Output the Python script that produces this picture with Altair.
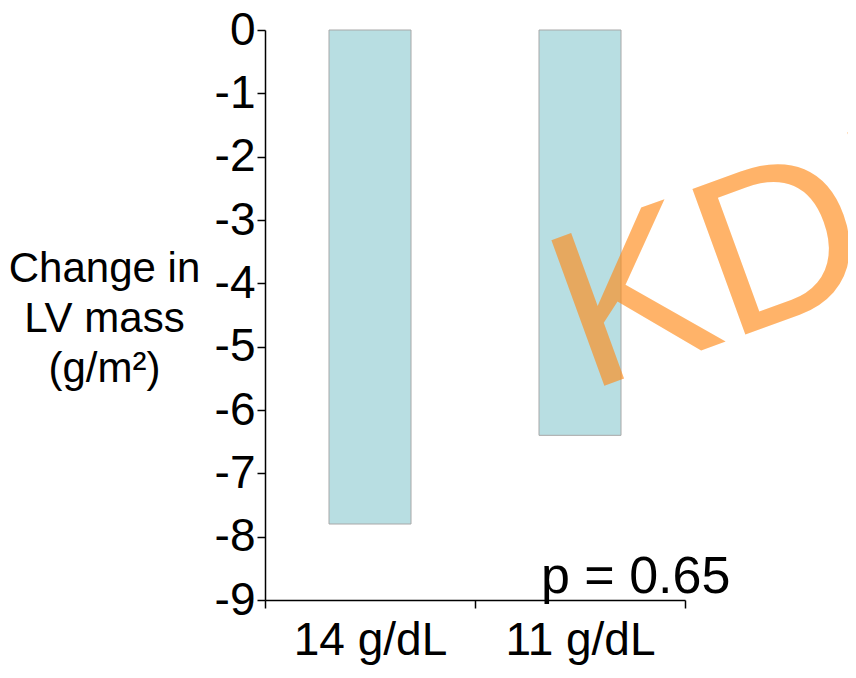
import altair as alt
import pandas as pd

categories = ["14 g/dL", "11 g/dL"]
values = [-7.8, -6.4]
y_ticks = [0, -1, -2, -3, -4, -5, -6, -7, -8, -9]
y_title = ["Change in", "LV mass", "(g/m²)"]
p_text = "p = 0.65"
watermark = "KDIGO"

df = pd.DataFrame({"group": categories, "change": values})
FONT = "Liberation Sans"

x_enc = alt.X(
    "group:N",
    sort=categories,
    scale=alt.Scale(paddingInner=0, paddingOuter=0),
    axis=alt.Axis(
        title=None,
        labelAngle=0,
        labelFont=FONT,
        labelFontSize=46,
        labelColor="black",
        labelPadding=10,
        tickBand="extent",
        tickSize=8,
        tickColor="black",
        domainColor="black",
        domainWidth=1.5,
        tickWidth=1.5,
    ),
)

y_enc = alt.Y(
    "change:Q",
    scale=alt.Scale(domain=[-9, 0], nice=False, zero=True),
    axis=alt.Axis(
        values=y_ticks,
        labelExpr="datum.value + ''",
        labelFont=FONT,
        labelFontSize=46,
        labelColor="black",
        labelPadding=2,
        tickSize=8,
        tickColor="black",
        tickWidth=1.5,
        domainColor="black",
        domainWidth=1.5,
        grid=False,
        title=y_title,
        titleFont=FONT,
        titleFontSize=42,
        titleFontWeight="normal",
        titleColor="black",
        titleAngle=0,
        titleAlign="center",
        titleBaseline="middle",
        titleLineHeight=50,
        titleX=-161,
        titleY=238,
    ),
)

bars = alt.Chart(df).mark_bar(
    fill="#B8DEE2",
    stroke="#A8A8A8",
    strokeWidth=1,
    width=alt.RelativeBandSize(82 / 210),
).encode(x=x_enc, y=y_enc)

ptxt = alt.Chart(pd.DataFrame({"group": [categories[1]], "change": [-9], "t": [p_text]})).mark_text(
    font=FONT, fontSize=52, align="left", baseline="alphabetic", dx=-39, dy=-7, color="black"
).encode(x=alt.X("group:N", sort=categories), y="change:Q", text="t:N")

wm = alt.Chart(pd.DataFrame({"t": [watermark]})).mark_text(
    font=FONT, fontSize=225, align="left", baseline="alphabetic", angle=340,
    color="#FF8C1A", opacity=0.65,
).encode(x=alt.value(322), y=alt.value(362), text="t:N")

chart = alt.layer(bars, ptxt, wm).properties(
    width=420,
    height=570,
    autosize=alt.AutoSizeParams(type="none"),
    padding={"left": 257, "top": 22, "right": 163, "bottom": 70},
).configure_view(stroke=None)

chart.save("out.html", embed_options={"renderer": "svg", "actions": False})
